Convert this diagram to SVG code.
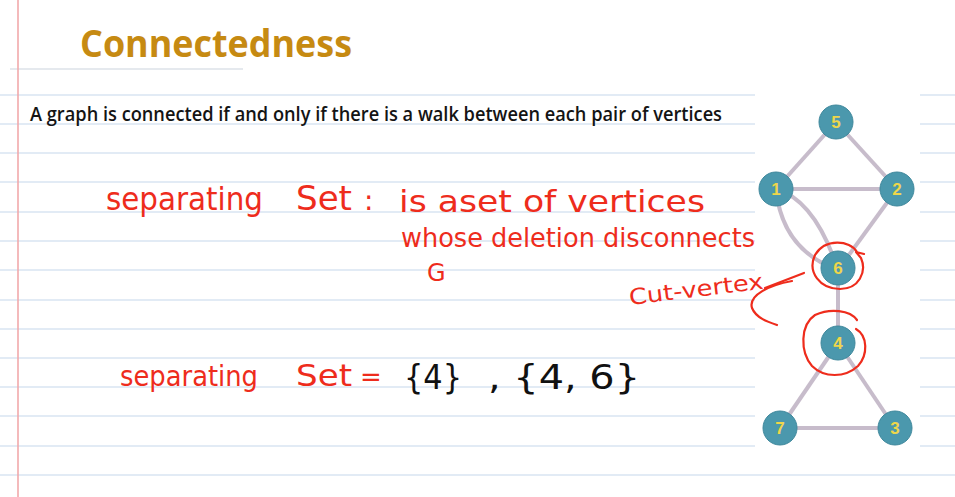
<svg xmlns="http://www.w3.org/2000/svg" width="955" height="497" viewBox="0 0 955 497">
<defs>
<style>
.rule{stroke:#d9e5f2;stroke-width:1.3}
.edge{stroke:#c7bccb;stroke-width:4;fill:none}
.node circle{fill:#4b98ad;stroke:#3f889c;stroke-width:1}
.node text{fill:#eed64b;font-family:"Liberation Sans",Arial,sans-serif;font-weight:bold;font-size:17px;text-anchor:middle}
.hand{fill:#ee2c1c;font-family:"DejaVu Sans",sans-serif;font-weight:normal}
.ink{stroke:#ee2c1c;stroke-width:2.2;fill:none;stroke-linecap:round;stroke-linejoin:round}
</style>
</defs>
<rect width="955" height="497" fill="#ffffff"/>
<g id="paper">
<line class="rule" x1="0" y1="95" x2="955" y2="95"/>
<line class="rule" x1="0" y1="124" x2="955" y2="124"/>
<line class="rule" x1="0" y1="153" x2="955" y2="153"/>
<line class="rule" x1="0" y1="182" x2="955" y2="182"/>
<line class="rule" x1="0" y1="212" x2="955" y2="212"/>
<line class="rule" x1="0" y1="241" x2="955" y2="241"/>
<line class="rule" x1="0" y1="270" x2="955" y2="270"/>
<line class="rule" x1="0" y1="300" x2="955" y2="300"/>
<line class="rule" x1="0" y1="329" x2="955" y2="329"/>
<line class="rule" x1="0" y1="358" x2="955" y2="358"/>
<line class="rule" x1="0" y1="387" x2="955" y2="387"/>
<line class="rule" x1="0" y1="416" x2="955" y2="416"/>
<line class="rule" x1="0" y1="446" x2="955" y2="446"/>
<line class="rule" x1="0" y1="475" x2="955" y2="475"/>
<line x1="10" y1="69" x2="243" y2="69" stroke="#dde2e8" stroke-width="1.3"/>
<line x1="18" y1="0" x2="18" y2="497" stroke="#f2a9ab" stroke-width="1.6"/>
<rect x="755" y="88" width="165" height="366" fill="#ffffff"/>
</g>
<text x="80" y="57" font-family="'Open Sans',sans-serif" font-weight="bold" font-size="38" fill="#c68a12" textLength="272" lengthAdjust="spacingAndGlyphs">Connectedness</text>
<text x="30" y="121" font-family="'Open Sans',sans-serif" font-weight="600" font-size="19" fill="#141414" textLength="692" lengthAdjust="spacingAndGlyphs">A graph is connected if and only if there is a walk between each pair of vertices</text>
<g id="connectors">
<line class="edge" x1="836" y1="122" x2="776" y2="189"/>
<line class="edge" x1="836" y1="122" x2="897" y2="189"/>
<line class="edge" x1="776" y1="189" x2="897" y2="189"/>
<path class="edge" d="M776,189 Q815,200 838,270"/>
<path class="edge" d="M776,189 Q782,250 838,270"/>
<line class="edge" x1="897" y1="189" x2="838" y2="270"/>
<line class="edge" x1="838" y1="270" x2="838" y2="343"/>
<line class="edge" x1="838" y1="343" x2="780" y2="428"/>
<line class="edge" x1="838" y1="343" x2="895" y2="428"/>
<line class="edge" x1="780" y1="428" x2="895" y2="428"/>
</g>
<g id="n5" class="node"><circle cx="836" cy="122" r="17"/><text x="836" y="128">5</text></g>
<g id="n1" class="node"><circle cx="776" cy="189" r="17"/><text x="776" y="195">1</text></g>
<g id="n2" class="node"><circle cx="897" cy="189" r="17"/><text x="897" y="195">2</text></g>
<g id="n6" class="node"><circle cx="838" cy="268" r="17"/><text x="838" y="274">6</text></g>
<g id="n4" class="node"><circle cx="838" cy="343" r="17"/><text x="838" y="349">4</text></g>
<g id="n7" class="node"><circle cx="780" cy="428" r="17"/><text x="780" y="434">7</text></g>
<g id="n3" class="node"><circle cx="895" cy="428" r="17"/><text x="895" y="434">3</text></g>
<g id="annotations">
<text class="hand" x="106" y="210" font-size="32" textLength="157" lengthAdjust="spacingAndGlyphs">separating</text>
<text class="hand" x="296" y="210" font-size="34" textLength="56" lengthAdjust="spacingAndGlyphs">Set</text>
<text class="hand" x="364" y="210" font-size="28">:</text>
<text class="hand" x="399" y="212" font-size="30" textLength="306" lengthAdjust="spacingAndGlyphs">is aset of vertices</text>
<text class="hand" x="401" y="247" font-size="26" textLength="354" lengthAdjust="spacingAndGlyphs">whose deletion disconnects</text>
<text class="hand" x="427" y="281" font-size="24">G</text>
<text class="hand" x="630" y="305" font-size="22" textLength="135" lengthAdjust="spacingAndGlyphs" transform="rotate(-7 630 305)">Cut-vertex</text>
<text class="hand" x="120" y="386" font-size="28" textLength="138" lengthAdjust="spacingAndGlyphs">separating</text>
<text class="hand" x="296" y="386" font-size="30" textLength="56" lengthAdjust="spacingAndGlyphs">Set</text>
<text class="hand" x="360" y="386" font-size="26">=</text>
<text x="404" y="389" font-family="'DejaVu Sans',sans-serif" font-size="34" fill="#111111" textLength="58" lengthAdjust="spacingAndGlyphs">{4}</text>
<text x="488" y="389" font-family="'DejaVu Sans',sans-serif" font-size="34" fill="#111111" textLength="152" lengthAdjust="spacingAndGlyphs">, {4, 6}</text>
<path class="ink" d="M857,252 C850,240 825,238 815,255 C807,272 820,289 840,289 C859,289 867,272 861,258 L856,252 L864,254"/>
<path class="ink" d="M765,288 L804,273"/>
<path class="ink" d="M792,281 C770,285 748,295 752,308 C756,318 768,322 777,325"/>
<path class="ink" d="M857,320 C850,310 830,308 815,315 C800,325 800,352 812,366 C824,378 845,378 858,366 C868,355 868,336 856,329"/>
</g>
</svg>
